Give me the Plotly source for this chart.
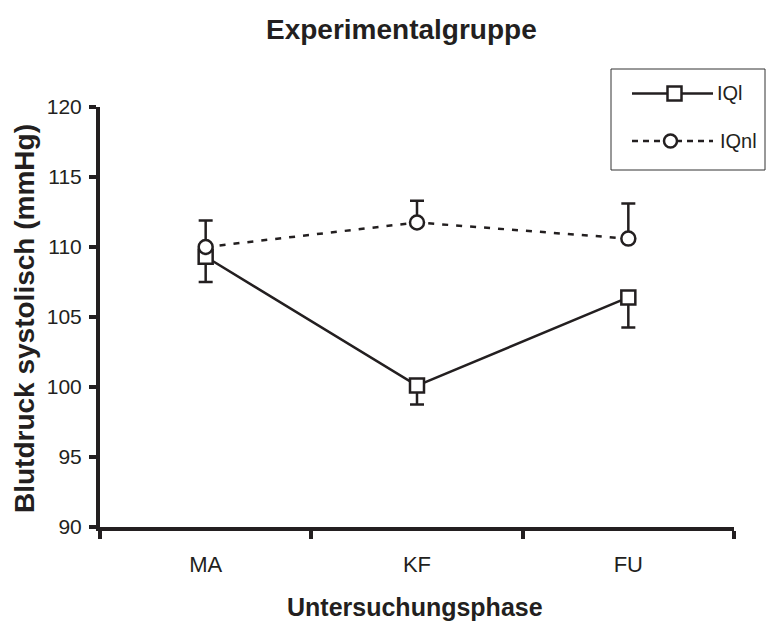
import plotly.graph_objects as go

# ---------------- data ----------------
categories = ["MA", "KF", "FU"]
iql_mean = [109.3, 100.1, 106.4]
iql_err_down = [1.8, 1.35, 2.15]
iqnl_mean = [110.0, 111.75, 110.6]
iqnl_err_up = [1.9, 1.55, 2.5]
y_ticks = [90, 95, 100, 105, 110, 115, 120]
series_names = ["IQl", "IQnl"]

# ---------------- layout helpers ----------------
W, H = 766, 621
L, R, T, B = 100, 32, 107, 94
PW, PH = W - L - R, H - T - B
INK = "#231f20"
FONT = "Liberation Sans, Arial, sans-serif"


def px(x):
    return (x - L) / PW


def py(y):
    return (H - B - y) / PH


fig = go.Figure()

fig.add_trace(go.Scatter(
    x=categories, y=iql_mean, name=series_names[0], mode="lines+markers",
    line=dict(color=INK, width=2.5),
    marker=dict(symbol="square", size=14, color="white", line=dict(color=INK, width=2.5)),
    error_y=dict(type="data", symmetric=False, array=[0] * len(iql_err_down),
                 arrayminus=iql_err_down, color=INK, thickness=2.5, width=7),
    showlegend=False, cliponaxis=False,
))
fig.add_trace(go.Scatter(
    x=categories, y=iqnl_mean, name=series_names[1], mode="lines+markers",
    line=dict(color=INK, width=2.5, dash="6px,8px"),
    marker=dict(symbol="circle", size=14, color="white", line=dict(color=INK, width=2.5)),
    error_y=dict(type="data", symmetric=False, array=iqnl_err_up,
                 arrayminus=[0] * len(iqnl_err_up), color=INK, thickness=2.5, width=7),
    showlegend=False, cliponaxis=False,
))

# ---------------- custom legend ----------------
shapes = [
    dict(type="rect", xref="paper", yref="paper", x0=px(611), x1=px(765), y0=py(170), y1=py(69),
         line=dict(color="#333333", width=1), fillcolor="white", layer="above"),
    dict(type="line", xref="paper", yref="paper", x0=px(632), x1=px(713), y0=py(93.5), y1=py(93.5),
         line=dict(color=INK, width=2.5), layer="above"),
    dict(type="rect", xref="paper", yref="paper", x0=px(667.5), x1=px(681.5), y0=py(100.5), y1=py(86.5),
         line=dict(color=INK, width=2.5), fillcolor="white", layer="above"),
    dict(type="line", xref="paper", yref="paper", x0=px(632), x1=px(713), y0=py(141), y1=py(141),
         line=dict(color=INK, width=2.5, dash="6px,5px"), layer="above"),
    dict(type="circle", xref="paper", yref="paper", x0=px(664), x1=px(677), y0=py(147.5), y1=py(134.5),
         line=dict(color=INK, width=2.5), fillcolor="white", layer="above"),
]

annotations = [
    dict(text=series_names[0], xref="paper", yref="paper", x=px(715), y=py(93.5),
         xanchor="left", yanchor="middle", showarrow=False, font=dict(size=20, color=INK, family=FONT)),
    dict(text=series_names[1], xref="paper", yref="paper", x=px(718), y=py(141),
         xanchor="left", yanchor="middle", showarrow=False, font=dict(size=20, color=INK, family=FONT)),
    dict(text="<b>Untersuchungsphase</b>", xref="paper", yref="paper", x=px(415), y=py(607),
         xanchor="center", yanchor="middle", showarrow=False, font=dict(size=25, color=INK, family=FONT)),
    dict(text="<b>Blutdruck systolisch (mmHg)</b>", xref="paper", yref="paper", x=px(24), y=py(319),
         xanchor="center", yanchor="middle", textangle=-90, showarrow=False,
         font=dict(size=28, color=INK, family=FONT)),
    dict(text="<b>Experimentalgruppe</b>", xref="paper", yref="paper", x=px(401), y=py(29),
         xanchor="center", yanchor="middle", showarrow=False, font=dict(size=28, color=INK, family=FONT)),
]

fig.update_layout(
    width=W, height=H,
    margin=dict(l=L, r=R, t=T, b=B, pad=0),
    paper_bgcolor="white", plot_bgcolor="white",
    font=dict(family=FONT, color=INK),
    showlegend=False,
    shapes=shapes,
    annotations=annotations,
    xaxis=dict(
        type="category", range=[-0.5, 2.5], tickson="boundaries",
        ticks="outside", ticklen=8, tickwidth=4, tickcolor=INK,
        showline=True, linewidth=4, linecolor=INK,
        showgrid=False, zeroline=False,
        tickfont=dict(size=22, color=INK, family=FONT), ticklabelstandoff=15,
    ),
    yaxis=dict(
        range=[90, 120], tickvals=y_ticks, ticktext=[str(v) for v in y_ticks],
        ticks="outside", ticklen=7, tickwidth=4, tickcolor=INK,
        showline=True, linewidth=4, linecolor=INK,
        showgrid=False, zeroline=False,
        tickfont=dict(size=21, color=INK, family=FONT), ticklabelstandoff=3,
    ),
)

fig.write_html("out.html")
